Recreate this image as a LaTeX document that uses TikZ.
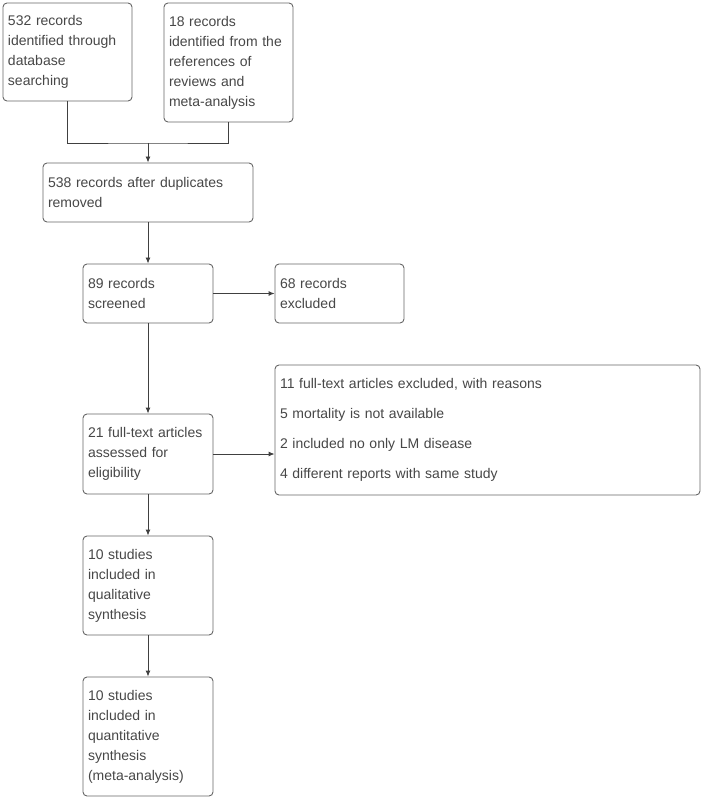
\documentclass[tikz,border=0pt]{standalone}
\usepackage{fontspec}
\setmainfont{Liberation Sans}
\usepackage{xcolor}
\usetikzlibrary{arrows.meta, positioning}

\begin{document}
\begin{tikzpicture}[x=1pt, y=1pt]

\tikzset{
  box/.style   = {rectangle, rounded corners=4pt, align=left, inner xsep=5pt,
                  font=\fontsize{14}{20}\selectfont, draw=black!60, line width=0.9pt,
                  fill=white, text=black!72},
  reasons/.style = {box, font=\fontsize{14}{30}\selectfont},
  line/.style  = {black!75, line width=0.9pt},
  arr/.style   = {line, -{Latex[length=6pt,width=5pt]}}
}

\useasboundingbox (0,0) rectangle (703,-799);

%% ── Identification ──────────────────────────────────────────────
\node[box, minimum width=129pt, minimum height=98pt, text width=119pt] (dbsearch) at (67.5, -52)
      {532 records\\identified through\\database\\searching};
\node[box, minimum width=129pt, minimum height=119pt, text width=119pt] (refsearch) at (228.5, -62.5)
      {18 records\\identified from the\\references of\\reviews and\\meta-analysis};
\coordinate (merge) at (148, -143);

%% ── Screening ───────────────────────────────────────────────────
\node[box, minimum width=210pt, minimum height=59pt, text width=200pt] (dedup) at (148, -192.5)
      {538 records after duplicates\\removed};
\node[box, minimum width=130pt, minimum height=59pt, text width=120pt] (screened) at (148, -293.5)
      {89 records\\screened};
\node[box, minimum width=129pt, minimum height=59pt, text width=119pt] (excluded) at (339.5, -293.5)
      {68 records\\excluded};

%% ── Eligibility ─────────────────────────────────────────────────
\node[box, minimum width=130pt, minimum height=80pt, text width=120pt] (fulltext) at (148, -454)
      {21 full-text articles\\assessed for\\eligibility};
\node[reasons, minimum width=425pt, minimum height=130pt, text width=415pt] (ftexcl) at (487.5, -430)
      {11 full-text articles excluded, with reasons\\5 mortality is not available\\2 included no only LM disease\\4 different reports with same study};

%% ── Included ────────────────────────────────────────────────────
\node[box, minimum width=130pt, minimum height=99pt, text width=120pt] (qualit) at (148, -585.5)
      {10 studies\\included in\\qualitative\\synthesis};
\node[box, minimum width=130pt, minimum height=119pt, text width=120pt] (quantit) at (148, -736.5)
      {10 studies\\included in\\quantitative\\synthesis\\(meta-analysis)};

%% ── Arrows ──────────────────────────────────────────────────────
\draw[line] (dbsearch.south) |- (merge) -| (refsearch.south);
\draw[arr]  (merge) -- (dedup.north);
\draw[arr]  (dedup) -- (screened);
\draw[arr]  (screened) -- (excluded);
\draw[arr]  (screened) -- (fulltext);
\draw[arr]  (fulltext.east) -- (fulltext.east -| ftexcl.west);
\draw[arr]  (fulltext) -- (qualit);
\draw[arr]  (qualit) -- (quantit);

\end{tikzpicture}
\end{document}
